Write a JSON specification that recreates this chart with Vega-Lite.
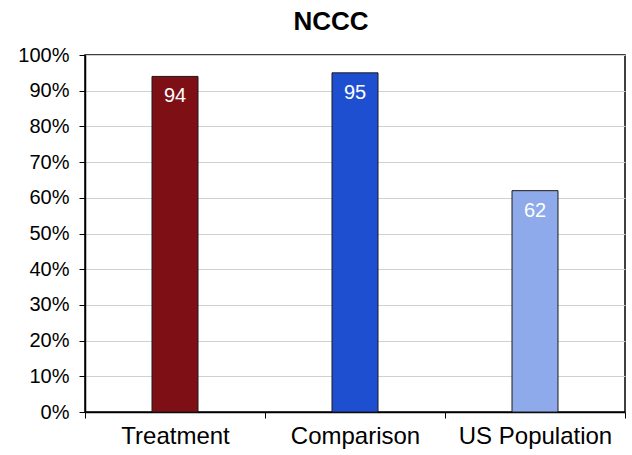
{
  "$schema": "https://vega.github.io/schema/vega-lite/v6.json",
  "width": 540,
  "height": 357,
  "autosize": "none",
  "padding": {"left": 85, "top": 55, "right": 7, "bottom": 43},
  "background": "white",
  "title": {"text": "NCCC", "fontSize": 26, "fontWeight": "bold", "font": "Liberation Sans", "color": "black", "offset": 10, "dx": -24, "anchor": "middle"},
  "config": {
    "view": {"stroke": "black", "strokeWidth": 1.5},
    "font": "Liberation Sans"
  },
  "data": {"values": [
    {"group": "Treatment", "value": 94},
    {"group": "Comparison", "value": 95},
    {"group": "US Population", "value": 62}
  ]},
  "encoding": {
    "x": {"field": "group", "type": "nominal", "sort": null, "scale": {"paddingInner": 0, "paddingOuter": 0},
      "axis": {"title": null, "offset": 0, "labelAngle": 0, "labelFontSize": 24, "labelColor": "black", "tickBand": "extent", "tickSize": 6, "tickColor": "black", "domainColor": "black", "domainWidth": 1.5, "labelPadding": 6, "grid": false}},
    "y": {"field": "value", "type": "quantitative", "scale": {"domain": [0, 100]},
      "axis": {"title": null, "offset": 0, "values": [0,10,20,30,40,50,60,70,80,90,100], "labelExpr": "datum.value + '%'", "labelFontSize": 20, "labelColor": "black", "tickSize": 6, "tickColor": "black", "domainColor": "black", "domainWidth": 1.5, "labelPadding": 10, "gridColor": "#d0d0d0", "gridWidth": 1}}
  },
  "layer": [
    {"mark": {"type": "bar", "size": 46, "stroke": "#1a1a1a", "strokeWidth": 1},
     "encoding": {"color": {"field": "group", "type": "nominal", "sort": null, "legend": null,
       "scale": {"domain": ["Treatment", "Comparison", "US Population"], "range": ["#7e0f15", "#1f4fd1", "#8eaaea"]}}}},
    {"mark": {"type": "text", "color": "white", "fontSize": 20, "baseline": "middle", "dy": 20},
     "encoding": {"text": {"field": "value", "type": "quantitative"}}}
  ]
}
